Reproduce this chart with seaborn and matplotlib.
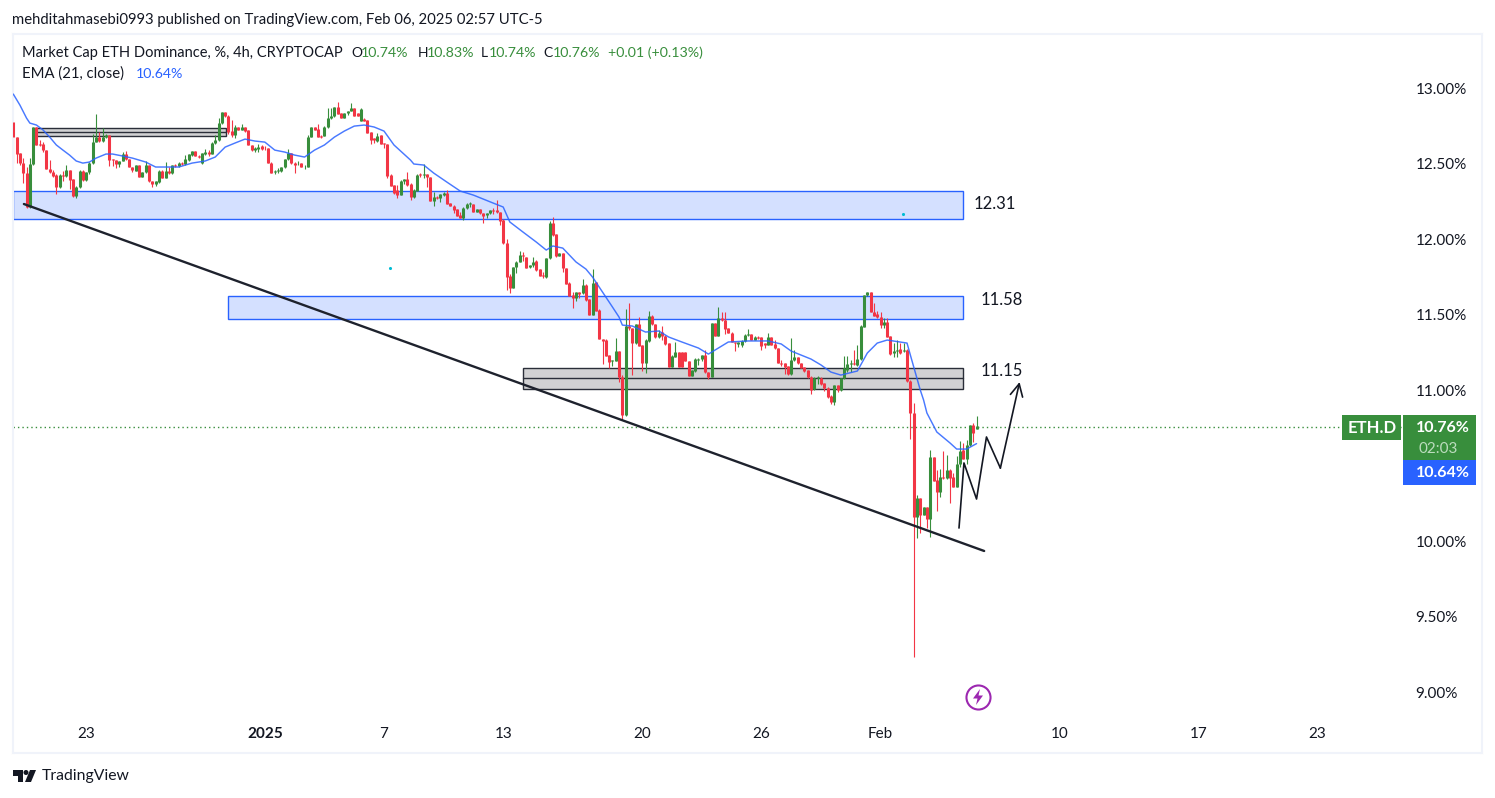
import numpy as np
import pandas as pd
import matplotlib.pyplot as plt
from matplotlib.patches import Rectangle, Polygon, Circle
import seaborn as sns

# candles, 4h bars
opens = [12.773,12.678,12.568,12.506,12.435,12.214,12.495,12.742,12.627,12.627,
 12.590,12.464,12.442,12.424,12.347,12.424,12.420,12.457,12.395,12.285,
 12.347,12.451,12.391,12.442,12.501,12.641,12.674,12.652,12.678,12.689,
 12.528,12.521,12.497,12.517,12.561,12.528,12.479,12.453,12.490,12.413,
 12.442,12.490,12.384,12.362,12.376,12.451,12.407,12.451,12.435,12.490,
 12.486,12.504,12.495,12.524,12.557,12.583,12.552,12.501,12.561,12.579,
 12.563,12.638,12.656,12.766,12.839,12.817,12.716,12.689,12.740,12.722,
 12.740,12.722,12.623,12.590,12.596,12.618,12.605,12.601,12.506,12.446,
 12.451,12.451,12.475,12.530,12.568,12.506,12.495,12.501,12.484,12.479,
 12.678,12.740,12.729,12.685,12.685,12.740,12.799,12.815,12.872,12.833,
 12.804,12.833,12.848,12.866,12.833,12.782,12.795,12.786,12.707,12.667,
 12.649,12.689,12.634,12.630,12.424,12.358,12.325,12.292,12.384,12.395,
 12.364,12.280,12.320,12.428,12.424,12.428,12.408,12.254,12.280,12.269,
 12.291,12.307,12.236,12.221,12.198,12.159,12.137,12.203,12.232,12.232,
 12.181,12.198,12.170,12.159,12.170,12.192,12.192,12.176,12.126,11.971,
 11.755,11.678,11.812,11.850,11.894,11.878,11.812,11.825,11.854,11.799,
 11.761,11.750,11.872,12.108,12.033,11.887,11.905,11.806,11.711,11.629,
 11.607,11.647,11.640,11.696,11.603,11.497,11.713,11.530,11.338,11.331,
 11.232,11.194,11.192,11.258,11.088,10.835,11.426,11.409,11.309,11.435,
 11.298,11.181,11.325,11.492,11.435,11.349,11.382,11.360,11.309,11.155,
 11.221,11.250,11.250,11.250,11.192,11.095,11.126,11.201,11.205,11.232,
 11.117,11.088,11.442,11.358,11.475,11.464,11.409,11.380,11.316,11.305,
 11.298,11.325,11.364,11.369,11.331,11.353,11.349,11.309,11.298,11.348,
 11.302,11.276,11.181,11.176,11.159,11.106,11.198,11.216,11.176,11.150,
 11.130,11.088,11.004,11.081,11.081,11.044,11.015,10.960,10.922,11.033,
 11.000,11.077,11.132,11.170,11.176,11.165,11.205,11.419,11.629,11.646,
 11.518,11.501,11.485,11.430,11.448,11.357,11.242,11.260,11.269,11.260,
 11.265,11.061,10.850,10.157,10.283,10.172,10.223,10.144,10.554,10.404,
 10.327,10.422,10.415,10.470,10.422,10.360,10.508,10.603,10.541,10.636,10.768,10.740]
closes = [12.678,12.561,12.501,12.435,12.214,12.495,12.742,12.623,12.623,12.590,
 12.464,12.442,12.418,12.347,12.424,12.420,12.457,12.391,12.285,12.347,
 12.451,12.391,12.442,12.506,12.641,12.674,12.652,12.678,12.689,12.524,
 12.524,12.497,12.517,12.561,12.528,12.479,12.457,12.490,12.413,12.442,
 12.490,12.384,12.362,12.384,12.451,12.407,12.451,12.435,12.490,12.486,
 12.504,12.495,12.530,12.561,12.583,12.552,12.543,12.568,12.579,12.561,
 12.638,12.656,12.766,12.839,12.817,12.711,12.689,12.740,12.722,12.740,
 12.716,12.623,12.590,12.605,12.612,12.596,12.601,12.506,12.440,12.451,
 12.457,12.479,12.530,12.572,12.501,12.490,12.497,12.479,12.486,12.678,
 12.740,12.722,12.678,12.678,12.740,12.799,12.815,12.872,12.828,12.804,
 12.833,12.848,12.870,12.817,12.817,12.861,12.782,12.700,12.656,12.656,
 12.685,12.630,12.630,12.420,12.354,12.303,12.292,12.384,12.398,12.357,
 12.276,12.324,12.424,12.424,12.428,12.408,12.254,12.280,12.269,12.298,
 12.307,12.232,12.221,12.192,12.154,12.141,12.207,12.232,12.236,12.181,
 12.198,12.170,12.154,12.170,12.192,12.187,12.176,12.121,11.971,11.750,
 11.678,11.812,11.850,11.894,11.887,11.810,11.825,11.850,11.795,11.757,
 11.757,11.872,12.108,12.026,11.887,11.909,11.806,11.702,11.622,11.607,
 11.647,11.634,11.696,11.596,11.497,11.707,11.526,11.338,11.325,11.228,
 11.188,11.199,11.258,11.088,10.835,11.426,11.409,11.309,11.435,11.294,
 11.181,11.331,11.492,11.435,11.349,11.380,11.358,11.305,11.155,11.225,
 11.250,11.155,11.155,11.192,11.095,11.133,11.205,11.205,11.232,11.117,
 11.088,11.442,11.358,11.475,11.464,11.402,11.380,11.316,11.309,11.316,
 11.327,11.364,11.369,11.331,11.353,11.342,11.292,11.298,11.349,11.298,
 11.276,11.181,11.170,11.154,11.106,11.198,11.216,11.176,11.148,11.126,
 11.083,11.000,11.081,11.088,11.039,11.011,10.955,10.918,11.033,11.000,
 11.077,11.143,11.172,11.176,11.172,11.205,11.426,11.629,11.646,11.518,
 11.492,11.481,11.430,11.452,11.353,11.238,11.260,11.265,11.242,11.265,
 11.061,10.845,10.157,10.283,10.172,10.223,10.144,10.554,10.400,10.327,
 10.422,10.418,10.470,10.415,10.360,10.508,10.596,10.541,10.636,10.768,10.713,10.760]
highs = [12.773,12.678,12.568,12.535,12.479,12.535,12.742,12.742,12.656,12.645,
 12.590,12.524,12.457,12.429,12.430,12.451,12.490,12.460,12.400,12.350,
 12.455,12.455,12.445,12.510,12.694,12.828,12.707,12.733,12.695,12.690,
 12.530,12.525,12.520,12.579,12.583,12.530,12.480,12.490,12.490,12.445,
 12.517,12.490,12.385,12.385,12.455,12.455,12.508,12.479,12.490,12.500,
 12.510,12.510,12.557,12.565,12.585,12.585,12.555,12.570,12.594,12.590,
 12.640,12.689,12.799,12.840,12.840,12.820,12.788,12.755,12.740,12.762,
 12.745,12.725,12.625,12.610,12.627,12.620,12.618,12.605,12.510,12.455,
 12.468,12.480,12.530,12.596,12.570,12.510,12.517,12.505,12.490,12.689,
 12.745,12.745,12.760,12.690,12.751,12.870,12.866,12.875,12.905,12.835,
 12.835,12.850,12.899,12.870,12.835,12.865,12.800,12.790,12.710,12.670,
 12.700,12.690,12.635,12.630,12.430,12.360,12.358,12.390,12.400,12.441,
 12.370,12.330,12.430,12.439,12.497,12.430,12.410,12.313,12.285,12.300,
 12.310,12.324,12.240,12.225,12.200,12.181,12.210,12.240,12.247,12.235,
 12.200,12.200,12.172,12.172,12.195,12.207,12.258,12.180,12.130,11.998,
 11.768,11.815,11.855,11.923,11.916,11.880,11.830,11.878,11.860,11.800,
 11.779,11.875,12.119,12.143,12.035,11.910,11.910,11.810,11.715,11.651,
 11.650,11.650,11.735,11.700,11.605,11.801,11.715,11.535,11.340,11.335,
 11.235,11.200,11.342,11.260,11.100,11.537,11.574,11.410,11.440,11.481,
 11.300,11.335,11.523,11.495,11.440,11.398,11.424,11.365,11.310,11.230,
 11.316,11.255,11.255,11.255,11.195,11.135,11.210,11.214,11.235,11.265,
 11.120,11.445,11.445,11.548,11.519,11.519,11.410,11.385,11.320,11.320,
 11.330,11.370,11.402,11.370,11.355,11.355,11.350,11.310,11.375,11.350,
 11.331,11.280,11.198,11.180,11.160,11.342,11.265,11.220,11.180,11.155,
 11.135,11.090,11.085,11.095,11.085,11.045,11.020,10.965,11.035,11.035,
 11.080,11.225,11.225,11.198,11.265,11.298,11.430,11.630,11.650,11.650,
 11.574,11.523,11.518,11.479,11.479,11.360,11.310,11.331,11.309,11.309,
 11.270,11.065,10.914,10.305,10.285,10.225,10.225,10.603,10.555,10.470,
 10.475,10.598,10.570,10.475,10.448,10.563,10.662,10.647,10.669,10.770,10.779,10.830]
lows = [12.501,12.501,12.490,12.369,12.203,12.205,12.490,12.623,12.618,12.579,
 12.464,12.435,12.413,12.296,12.340,12.384,12.410,12.331,12.281,12.274,
 12.336,12.385,12.385,12.429,12.500,12.640,12.641,12.645,12.667,12.486,
 12.486,12.468,12.479,12.515,12.525,12.475,12.442,12.450,12.410,12.410,
 12.440,12.380,12.347,12.354,12.370,12.405,12.405,12.430,12.430,12.480,
 12.480,12.490,12.490,12.520,12.550,12.550,12.540,12.500,12.555,12.550,
 12.560,12.630,12.650,12.760,12.810,12.694,12.678,12.671,12.720,12.720,
 12.710,12.620,12.585,12.579,12.579,12.590,12.590,12.505,12.440,12.431,
 12.435,12.445,12.470,12.525,12.500,12.437,12.490,12.475,12.464,12.475,
 12.675,12.720,12.675,12.670,12.680,12.735,12.795,12.810,12.825,12.800,
 12.800,12.820,12.845,12.815,12.815,12.780,12.780,12.700,12.627,12.634,
 12.645,12.630,12.601,12.402,12.350,12.300,12.274,12.290,12.362,12.350,
 12.258,12.275,12.315,12.408,12.402,12.342,12.250,12.221,12.265,12.247,
 12.285,12.230,12.220,12.174,12.150,12.140,12.126,12.200,12.214,12.180,
 12.180,12.165,12.108,12.137,12.165,12.165,12.170,12.093,11.970,11.662,
 11.644,11.675,11.777,11.850,11.856,11.805,11.810,11.812,11.790,11.755,
 11.739,11.745,11.870,12.020,11.883,11.885,11.783,11.700,11.620,11.545,
 11.590,11.607,11.635,11.590,11.495,11.495,11.525,11.335,11.172,11.225,
 11.144,11.159,11.190,11.055,10.801,10.830,11.400,11.100,11.305,11.290,
 11.126,11.111,11.320,11.430,11.345,11.345,11.331,11.300,11.150,11.150,
 11.220,11.150,11.150,11.190,11.090,11.090,11.120,11.166,11.192,11.115,
 11.073,11.085,11.355,11.355,11.460,11.371,11.375,11.315,11.261,11.287,
 11.287,11.320,11.360,11.330,11.330,11.340,11.265,11.276,11.295,11.295,
 11.270,11.180,11.159,11.106,11.100,11.100,11.195,11.175,11.145,11.120,
 11.080,10.973,11.000,11.037,11.035,10.995,10.950,10.905,10.900,10.989,
 10.995,11.075,11.117,11.121,11.165,11.160,11.200,11.415,11.625,11.515,
 11.490,11.475,11.412,11.408,11.350,11.235,11.220,11.220,11.240,11.255,
 11.050,10.674,9.232,10.018,10.051,10.170,10.084,10.025,10.395,10.201,
 10.294,10.413,10.410,10.250,10.355,10.355,10.490,10.540,10.510,10.630,10.658,10.740]

# EMA 21, sampled along the drawn line
ema_bar = [0,2,4,5,7,9,11,13,15,17,19,21,23,25,28,30,33,36,40,43,46,50,54,58,61,64,67,70,73,76,
 79,82,85,88,91,94,97,100,103,106,109,112,115,118,120,121,124,127,131,135,139,145,148,150,154,158,161,163,166,170,
 173,175,178,181,183,184,187,191,195,198,202,207,210,213,216,222,228,232,235,241,244,247,250,255,258,261,264,270,271,274,
 275,276,279,283,285,288,291]
ema_val = [12.960,12.887,12.801,12.768,12.755,12.722,12.675,12.623,12.589,12.556,12.517,12.503,12.510,12.536,12.563,12.563,12.550,12.536,12.510,12.477,
 12.477,12.477,12.503,12.517,12.543,12.609,12.636,12.662,12.649,12.642,
 12.589,12.576,12.556,12.543,12.589,12.623,12.675,12.715,12.748,12.755,12.742,12.715,12.623,12.563,12.523,12.497,12.490,12.437,12.377,12.318,
 12.291,12.238,12.212,12.113,12.046,11.980,11.927,11.954,11.940,11.848,
 11.801,11.748,11.649,11.550,11.483,11.430,11.424,11.384,11.391,11.351,11.318,11.278,11.238,11.278,11.318,11.325,11.325,11.305,11.258,11.205,
 11.166,11.119,11.099,11.126,11.245,11.311,11.331,11.311,11.232,11.000,
 10.934,10.848,10.722,10.649,10.609,10.609,10.645]

# drawings on the chart
trend_bar = [3.2, 293.3]
trend_val = [12.232, 9.934]
path_bar = [285.7, 287.2, 291.0, 294.0, 298.2]
path_val = [10.086, 10.517, 10.278, 10.689, 10.483]
arrow_tip = (304.0, 11.053)
blue_zones = [(0, 12.132, 12.318), (65, 11.470, 11.623)]
grey_zones = [(154, 11.007, 11.146, 11.079), (7, 12.684, 12.735, 12.709)]
zone_ends = [286.9, 286.9, 286.9, 64.2]
level_labels = ['12.31', '11.58', '11.15']
level_bars = [296.4, 298.7, 298.7]
level_vals = [12.232, 11.596, 11.126]
dot_bar = [268.8, 113.8]
dot_val = [12.166, 11.808]

y_ticks = [9, 9.5, 10, 10.5, 11, 11.5, 12, 12.5, 13]
y_labels = ['9.00%', '9.50%', '10.00%', '', '11.00%', '11.50%', '12.00%', '12.50%', '13.00%']
x_ticks = [22, 76, 112, 148, 190, 226, 262, 316, 358, 394]
x_labels = ['23', '2025', '7', '13', '20', '26', 'Feb', '10', '17', '23']

last_price = 10.755
GREEN = '#388e3c'
RED = '#f23645'
BLUE = '#2962ff'
DARK = '#131722'

sns.set_theme(style='white')
plt.rcParams['font.family'] = ['Lato', 'DejaVu Sans']

fig = plt.figure(figsize=(14.95, 7.98), dpi=100)
W, H = 1495., 798.
ax = fig.add_axes([13/W, 1-753/H, 1469/W, 719/H])
ax.set_xlim(-0.09, 443.7)
ax.set_ylim(8.596, 13.358)

n = len(opens)
bars = np.arange(n)
up = np.array(closes) >= np.array(opens)
wicks = pd.DataFrame({'bar': np.r_[bars, bars], 'price': np.r_[highs, lows], 'up': np.r_[up, up]})
bodies = pd.DataFrame({'bar': np.r_[bars, bars], 'price': np.r_[opens, closes], 'up': np.r_[up, up]})
pal = {True: GREEN, False: RED}

for z, e in zip(blue_zones, zone_ends[:2]):
    ax.add_patch(Rectangle((z[0], z[1]), e - z[0], z[2] - z[1], fc='#d4e0ff', ec=BLUE, lw=1, zorder=1))
for z, e in zip(grey_zones, zone_ends[2:]):
    ax.add_patch(Rectangle((z[0], z[1]), e - z[0], z[2] - z[1], fc='#d1d1d3', ec='#2a2e39', lw=1, zorder=1))
    ax.plot([z[0], e], [z[3], z[3]], color='#2a2e39', lw=1, zorder=1)

ax.axhline(last_price, xmax=(1403 - 13) / 1469, color=GREEN, lw=1, ls=(0, (1, 2.2)), zorder=1.5)

sns.lineplot(data=wicks, x='bar', y='price', units='bar', hue='up', palette=pal, estimator=None,
             lw=0.8, legend=False, ax=ax, zorder=2, solid_capstyle='butt')
sns.lineplot(data=bodies, x='bar', y='price', units='bar', hue='up', palette=pal, estimator=None,
             lw=2.2, legend=False, ax=ax, zorder=3, solid_capstyle='butt')
sns.lineplot(x=ema_bar, y=ema_val, color=BLUE, lw=1.05, ax=ax, zorder=4, estimator=None, alpha=0.85)
sns.lineplot(x=trend_bar, y=trend_val, color='#1e222d', lw=1.7, ax=ax, zorder=5, estimator=None)
sns.lineplot(x=path_bar, y=path_val, color='#131722', lw=1.2, ax=ax, zorder=5, estimator=None, sort=False)
ax.annotate('', xy=arrow_tip, xytext=(path_bar[-1], path_val[-1]), zorder=5,
            arrowprops=dict(arrowstyle='->,head_width=0.28,head_length=0.55', color='#131722', lw=1.2,
                            shrinkA=0, shrinkB=0, mutation_scale=16))
sns.scatterplot(x=dot_bar, y=dot_val, color='#00bcd4', s=5, linewidth=0, ax=ax, zorder=5)

for t, b, v in zip(level_labels, level_bars, level_vals):
    ax.text(b, v, t, ha='center', va='center', fontsize=12, color=DARK, zorder=6)

ax.set_xticks(x_ticks)
ax.set_xticklabels(x_labels, fontsize=11, color=DARK)
ax.get_xticklabels()[1].set_fontweight('bold')
ax.set_yticks(y_ticks)
ax.set_yticklabels(y_labels, fontsize=11, color=DARK)
ax.yaxis.tick_right()
ax.tick_params(axis='y', length=0, pad=-48)
ax.tick_params(axis='x', length=0, pad=-19)
ax.set_xlabel('')
ax.set_ylabel('')
for s in ax.spines.values():
    s.set_color('#f0f3fa')
    s.set_linewidth(1.5)

# lightning mark on the time axis
ax.scatter([291.4], [8.967], s=300, fc='white', ec='#9c27b0', lw=1.5, zorder=6)

# header, price tags and logo, placed in pixels
ov = fig.add_axes([0, 0, 1, 1], facecolor='none')
ov.set_xlim(0, W)
ov.set_ylim(H, 0)
ov.axis('off')


def tx(x, y, s, c=DARK, fs=10, **kw):
    ov.text(x, y, s, color=c, fontsize=fs, va='center', **kw)


tx(12, 20, 'mehditahmasebi0993 published on TradingView.com, Feb 06, 2025 02:57 UTC-5', fs=10.7)
tx(22, 53, 'Market Cap ETH Dominance, %, 4h, CRYPTOCAP', fs=10.5)
for x, s in [(351, 'O'), (418, 'H'), (481, 'L'), (543, 'C')]:
    tx(x, 53, s)
for x, s in [(361, '10.74%'), (427, '10.83%'), (489, '10.74%'), (553, '10.76%'), (608, '+0.01 (+0.13%)')]:
    tx(x, 53, s, GREEN, 10.2)
tx(22, 74, 'EMA (21, close)', fs=10.7)
tx(136, 74, '10.64%', BLUE, 10.2)

ov.add_patch(Polygon([(980, 689), (973, 698.5), (977.5, 698.5), (976, 705), (983, 695.5), (978.5, 695.5)], fc='#9c27b0', ec='none'))

ov.add_patch(Rectangle((1342, 415), 59, 25, fc=GREEN, ec='none'))
ov.add_patch(Rectangle((1403, 415), 73, 45, fc=GREEN, ec='none'))
ov.add_patch(Rectangle((1403, 460), 73, 25, fc=BLUE, ec='none'))
tx(1372, 428, 'ETH.D', 'white', 12, ha='center', fontweight='bold')
tx(1470, 428, '10.76%', 'white', 11.5, ha='right', fontweight='bold')
tx(1458, 449, '02:03', '#bcdcbe', 11, ha='right')
tx(1470, 473, '10.64%', 'white', 11.5, ha='right', fontweight='bold')

ov.add_patch(Polygon([(13, 770), (23, 770), (23, 782), (18, 782), (18, 776), (13, 776)], fc=DARK, ec='none'))
ov.add_patch(Circle((26, 772.5), 2.5, fc=DARK, ec='none'))
ov.add_patch(Polygon([(30, 770), (36, 770), (31, 782), (25, 782)], fc=DARK, ec='none'))
tx(42, 776, 'TradingView', fs=11.3)

fig.savefig('out.png', dpi=100, facecolor='white')
